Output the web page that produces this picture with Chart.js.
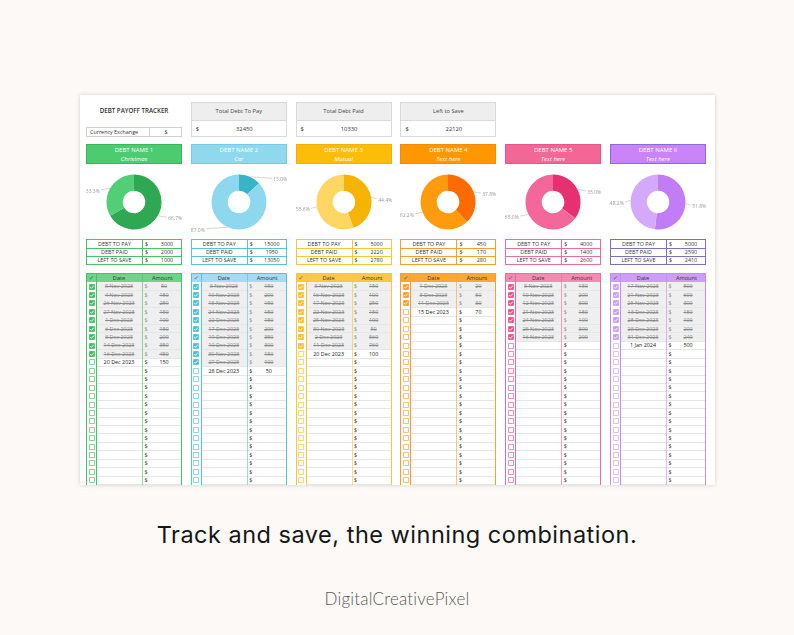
<!DOCTYPE html>
<html><head><meta charset="utf-8">
<script src="https://cdn.jsdelivr.net/npm/chart.js@4"></script>
<style>
html,body{margin:0;padding:0;}
body{width:794px;height:635px;background:#fcf9f6;position:relative;overflow:hidden;font-family:'Open Sans',Lato,sans-serif;}
#panel{position:absolute;left:80px;top:95px;width:635px;height:390px;background:#fff;box-shadow:0 0 4px rgba(0,0,0,0.18);overflow:hidden;}
.abs{position:absolute;box-sizing:border-box;white-space:nowrap;font-weight:400;}
#tag{position:absolute;left:0;width:794px;text-align:center;top:520px;font-family:Inter,'Open Sans',sans-serif;font-size:23.5px;line-height:30px;color:#161616;white-space:nowrap;}
#brand{position:absolute;left:0;width:794px;text-align:center;top:588px;font-family:Lato,sans-serif;font-weight:300;font-size:17px;line-height:22px;color:#5a5a5a;white-space:nowrap;}
</style></head>
<body>
<div id="panel"></div>
<div id="tag"><span>Track and save, the winning combination.</span></div>
<div id="brand"><span>DigitalCreativePixel</span></div>
<script>
// ---------- DATA ----------
const debtNames = ['DEBT NAME 1','DEBT NAME 2','DEBT NAME 3','DEBT NAME 4','DEBT NAME 5','DEBT NAME 6'];
const debtSubtitles = ['Christmas','Car','Mutual','Text here','Text here','Text here'];
const debtToPay = [3000,15000,5000,450,4000,5000];
const debtPaid = [2000,1950,2220,170,1400,2590];
const leftToSave = [1000,13050,2780,280,2600,2410];
const summaryLabels = ['DEBT TO PAY','DEBT PAID','LEFT TO SAVE'];
const totalLabels = ['Total Debt To Pay','Total Debt Paid','Left to Save'];
const logDates1 = ['8 Nov 2023','4 Nov 2023','26 Nov 2023','27 Nov 2023','1 Dec 2023','6 Dec 2023','8 Dec 2023','14 Dec 2023','16 Dec 2023','20 Dec 2023'];
const logAmounts1 = [50,150,250,150,100,150,200,350,450,150];
const logDates2 = ['8 Nov 2023','10 Nov 2023','18 Nov 2023','24 Nov 2023','22 Dec 2023','17 Dec 2023','19 Dec 2023','10 Dec 2023','30 Nov 2023','27 Dec 2023','28 Dec 2023'];
const logAmounts2 = [150,200,150,150,150,200,350,300,150,100,50];
const logDates3 = ['8 Nov 2023','16 Nov 2023','17 Nov 2023','22 Nov 2023','25 Nov 2023','30 Nov 2023','2 Dec 2023','11 Dec 2023','20 Dec 2023'];
const logAmounts3 = [150,100,250,150,100,50,560,760,100];
const logDates4 = ['1 Dec 2023','3 Dec 2023','11 Dec 2023','15 Dec 2023'];
const logAmounts4 = [20,50,30,70];
const logDates5 = ['8 Nov 2023','10 Nov 2023','12 Nov 2023','21 Nov 2023','24 Nov 2023','28 Nov 2023','16 Nov 2023'];
const logAmounts5 = [150,200,300,150,100,300,200];
const logDates6 = ['17 Nov 2023','21 Nov 2023','25 Nov 2023','13 Dec 2023','25 Dec 2023','28 Dec 2023','31 Dec 2023','1 Jan 2024'];
const logAmounts6 = [500,600,300,150,100,200,240,500];
const checkedCount = [9,10,8,3,7,7];

// ---------- STYLE ----------
const logDates = [logDates1,logDates2,logDates3,logDates4,logDates5,logDates6];
const logAmounts = [logAmounts1,logAmounts2,logAmounts3,logAmounts4,logAmounts5,logAmounts6];
const theme = [
 {name:'#4ccb70',nb:'#34b85a',dark:'#2ea853',light:'#52cf76',sb:'#49c06b',lb:'#49c06b',head:'#6fd38c',chk:'#3fbd62'},
 {name:'#8fd8ee',nb:'#74cbe4',dark:'#38b4c7',light:'#8dd8ee',sb:'#58c2d8',lb:'#58c2d8',head:'#a2ddf0',chk:'#4cbfd4'},
 {name:'#fbbd08',nb:'#f2b000',dark:'#f5b400',light:'#fdd663',sb:'#f8c63a',lb:'#f8c63a',head:'#fcc843',chk:'#f8bf2a'},
 {name:'#ff9800',nb:'#f58b00',dark:'#ff6b00',light:'#ff9b0d',sb:'#ff9d2e',lb:'#ff9d2e',head:'#ffa733',chk:'#ff9a2a'},
 {name:'#f36797',nb:'#e9558a',dark:'#e6306f',light:'#f4679a',sb:'#ec6d9b',lb:'#ec6d9b',head:'#f68bb2',chk:'#ee4f88'},
 {name:'#c985f7',nb:'#8a6ad6',dark:'#c17df5',light:'#d5a9fa',sb:'#7c70c8',lb:'#c08ef0',head:'#cc9ef7',chk:'#c99cf3'}
];
const colL = [6,110.8,215.6,320.4,425.2,530];
const panel = document.getElementById('panel');
function box(css, html, parent){ const d=document.createElement('div'); d.className='abs'; d.style.cssText=css; if(html!=null) d.innerHTML=html; (parent||panel).appendChild(d); return d; }

const FS = 5.4;
// title and currency
box('left:6px;top:11px;width:96px;height:10px;font-size:6.2px;font-weight:600;text-align:center;line-height:10px;color:#333;','DEBT PAYOFF TRACKER');
const cur = box('left:6px;top:32px;width:96px;height:10px;border:0.8px solid #cfcfcf;');
box(`left:0;top:0;width:63px;height:100%;border-right:0.8px solid #cfcfcf;font-size:${FS}px;line-height:8.5px;padding-left:3px;color:#333;`,'Currency Exchange',cur);
box(`left:63px;top:0;width:32px;height:100%;font-size:${FS}px;line-height:8.5px;text-align:center;color:#333;`,'$',cur);

// totals
const sum = a => a.reduce((s,v)=>s+v,0);
const totals = [sum(debtToPay), sum(debtPaid), sum(leftToSave)];
for(let k=0;k<3;k++){
  const b = box(`left:${colL[k+1]}px;top:7px;width:96px;height:35px;border:0.8px solid #dadada;background:#fff;`);
  box('left:0;top:0;width:100%;height:17.5px;background:#eeeeee;border-bottom:0.8px solid #dadada;font-size:5.7px;line-height:17px;text-align:center;color:#444;', totalLabels[k], b);
  box('left:4px;top:17.5px;height:16px;font-size:5.8px;line-height:16px;color:#333;','$',b);
  box('left:32px;top:17.5px;width:41px;height:16px;font-size:5.8px;line-height:16px;text-align:center;color:#333;', String(totals[k]), b);
}

// label plugin
const pctLabels = {
  id:'pctLabels',
  afterDatasetsDraw(chart){
    const ctx = chart.ctx, meta = chart.getDatasetMeta(0), data = chart.data.datasets[0].data;
    const total = data.reduce((a,b)=>a+b,0);
    ctx.save();
    ctx.font = '5px "Open Sans", sans-serif';
    meta.data.forEach((arc,i)=>{
      const p = arc.getProps(['x','y','startAngle','endAngle','outerRadius'], true);
      const mid = (p.startAngle+p.endAngle)/2;
      const px = p.x + Math.cos(mid)*p.outerRadius, py = p.y + Math.sin(mid)*p.outerRadius;
      const side = Math.cos(mid) >= 0 ? 1 : -1;
      const ax = p.x + side*33, ay = py + 1.5;
      ctx.strokeStyle = '#c4c4c4'; ctx.lineWidth = 0.7;
      ctx.beginPath(); ctx.moveTo(px,py); ctx.lineTo(ax,ay); ctx.stroke();
      ctx.fillStyle = '#9a9a9a'; ctx.textAlign = side>0 ? 'left' : 'right'; ctx.textBaseline = 'middle';
      ctx.fillText((data[i]/total*100).toFixed(1)+'%', ax + side*1.2, ay + 1.5);
    });
    ctx.restore();
  }
};

const checkSvg = c => `<svg width="6" height="6" viewBox="0 0 6 6" style="display:block"><rect x="0.3" y="0.3" width="5.4" height="5.4" rx="0.6" fill="${c}" stroke="${c}" stroke-width="0.6"/><path d="M1.3 3.1 L2.5 4.3 L4.7 1.7" stroke="#fff" fill="none" stroke-width="0.9"/></svg>`;
const emptySvg = c => `<svg width="6" height="6" viewBox="0 0 6 6" style="display:block"><rect x="0.4" y="0.4" width="5.2" height="5.2" rx="0.6" fill="#fff" stroke="${c}" stroke-width="0.7"/></svg>`;

const RH = 8.42;
for(let i=0;i<6;i++){
  const t = theme[i], L = colL[i];
  // name box
  const nb = box(`left:${L}px;top:49px;width:96px;height:20px;background:${t.name};border:0.8px solid ${t.nb};color:#fff;`);
  box('left:0;top:0;width:100%;height:10px;font-size:6px;line-height:10px;text-align:center;', debtNames[i], nb);
  box('left:0;top:9.2px;width:100%;height:10px;font-size:6px;line-height:10px;text-align:center;font-style:italic;', debtSubtitles[i], nb);
  // doughnut
  const cv = document.createElement('canvas');
  cv.width = 104; cv.height = 66;
  cv.style.cssText = `position:absolute;left:${L-4}px;top:74px;width:104px;height:66px;`;
  panel.appendChild(cv);
  new Chart(cv, {
    type:'doughnut',
    data:{labels:['Debt paid','Left to save'], datasets:[{data:[debtPaid[i], leftToSave[i]], backgroundColor:[t.dark, t.light], borderWidth:0}]},
    options:{responsive:false, animation:false, devicePixelRatio:1, radius:27.5, cutout:13.5, layout:{padding:0}, events:[],
      plugins:{legend:{display:false}, tooltip:{enabled:false}}},
    plugins:[pctLabels]
  });
  // summary table
  const st = box(`left:${L}px;top:144px;width:96px;height:26px;border:0.9px solid ${t.sb};background:#fff;`);
  const sv = [debtToPay[i], debtPaid[i], leftToSave[i]];
  for(let r=0;r<3;r++){
    const rowTop = r*8.1;
    if(r>0) box(`left:0;top:${rowTop}px;width:100%;height:0;border-top:0.7px solid ${t.sb};`,null,st);
    box(`left:0;top:${rowTop}px;width:55px;height:8.1px;font-size:${FS}px;line-height:8.3px;text-align:center;color:#333;`, summaryLabels[r], st);
    box(`left:58px;top:${rowTop}px;height:8.1px;font-size:${FS}px;line-height:8.3px;color:#333;`, '$', st);
    box(`left:66px;top:${rowTop}px;width:28px;height:8.1px;font-size:${FS}px;line-height:8.3px;text-align:center;color:#333;`, String(sv[r]), st);
  }
  box(`left:55px;top:0;width:0;height:100%;border-left:0.7px solid ${t.sb};`,null,st);
  // log table (runs past the panel's bottom edge, which clips it)
  const lt = box(`left:${L}px;top:178px;width:96px;height:${25*RH+6}px;border:0.9px solid ${t.lb};background:#fff;overflow:hidden;`);
  box(`left:0;top:0;width:100%;height:${RH}px;background:${t.head};`,null,lt);
  box(`left:0;top:0;width:9px;height:${RH}px;font-size:6.5px;line-height:${RH}px;text-align:center;color:rgba(0,0,0,0.55);font-family:'DejaVu Sans';`,'\u2713',lt);
  box(`left:9px;top:0;width:46px;height:${RH}px;font-size:5.6px;line-height:${RH}px;text-align:center;color:#333;`,'Date',lt);
  box(`left:55px;top:0;width:41px;height:${RH}px;font-size:5.6px;line-height:${RH}px;text-align:center;color:#333;`,'Amount',lt);
  const dates = logDates[i], amts = logAmounts[i];
  for(let r=0;r<24;r++){
    const top = RH*(r+1);
    const checked = r < checkedCount[i];
    if(checked) box(`left:9px;top:${top}px;width:87px;height:${RH}px;background:#efefef;`,null,lt);
    box(`left:9px;top:${top+RH-0.5}px;width:87px;height:0;border-top:0.5px solid #e6e6e6;`,null,lt);
    box(`left:1.5px;top:${top+1.2}px;width:6px;height:6px;`, checked ? checkSvg(t.chk) : emptySvg(t.chk), lt);
    const txtCol = checked ? '#8c8c8c' : '#222';
    const deco = checked ? 'text-decoration:line-through;' : '';
    if(r < dates.length){
      box(`left:9px;top:${top}px;width:46px;height:${RH}px;font-size:${FS}px;line-height:${RH}px;text-align:center;color:${txtCol};${deco}`, dates[r], lt);
      box(`left:62px;top:${top}px;width:30px;height:${RH}px;font-size:${FS}px;line-height:${RH}px;text-align:center;color:${txtCol};${deco}`, String(amts[r]), lt);
    }
    box(`left:57.5px;top:${top}px;height:${RH}px;font-size:${FS}px;line-height:${RH}px;color:${checked?'#8c8c8c':'#333'};`, '$', lt);
  }
  box(`left:9px;top:0;width:0;height:100%;border-left:0.7px solid ${t.lb};`,null,lt);
  box(`left:55px;top:0;width:0;height:100%;border-left:0.7px solid ${t.lb};opacity:0.6;`,null,lt);
}

// fit bottom texts
function fit(id, target){
  const s = document.querySelector('#'+id+' span');
  const n = s.textContent.length;
  const w = s.getBoundingClientRect().width;
  s.style.letterSpacing = ((target - w)/(n-1)).toFixed(3)+'px';
}
fit('tag', 480);
fit('brand', 145);
</script>
</body></html>
